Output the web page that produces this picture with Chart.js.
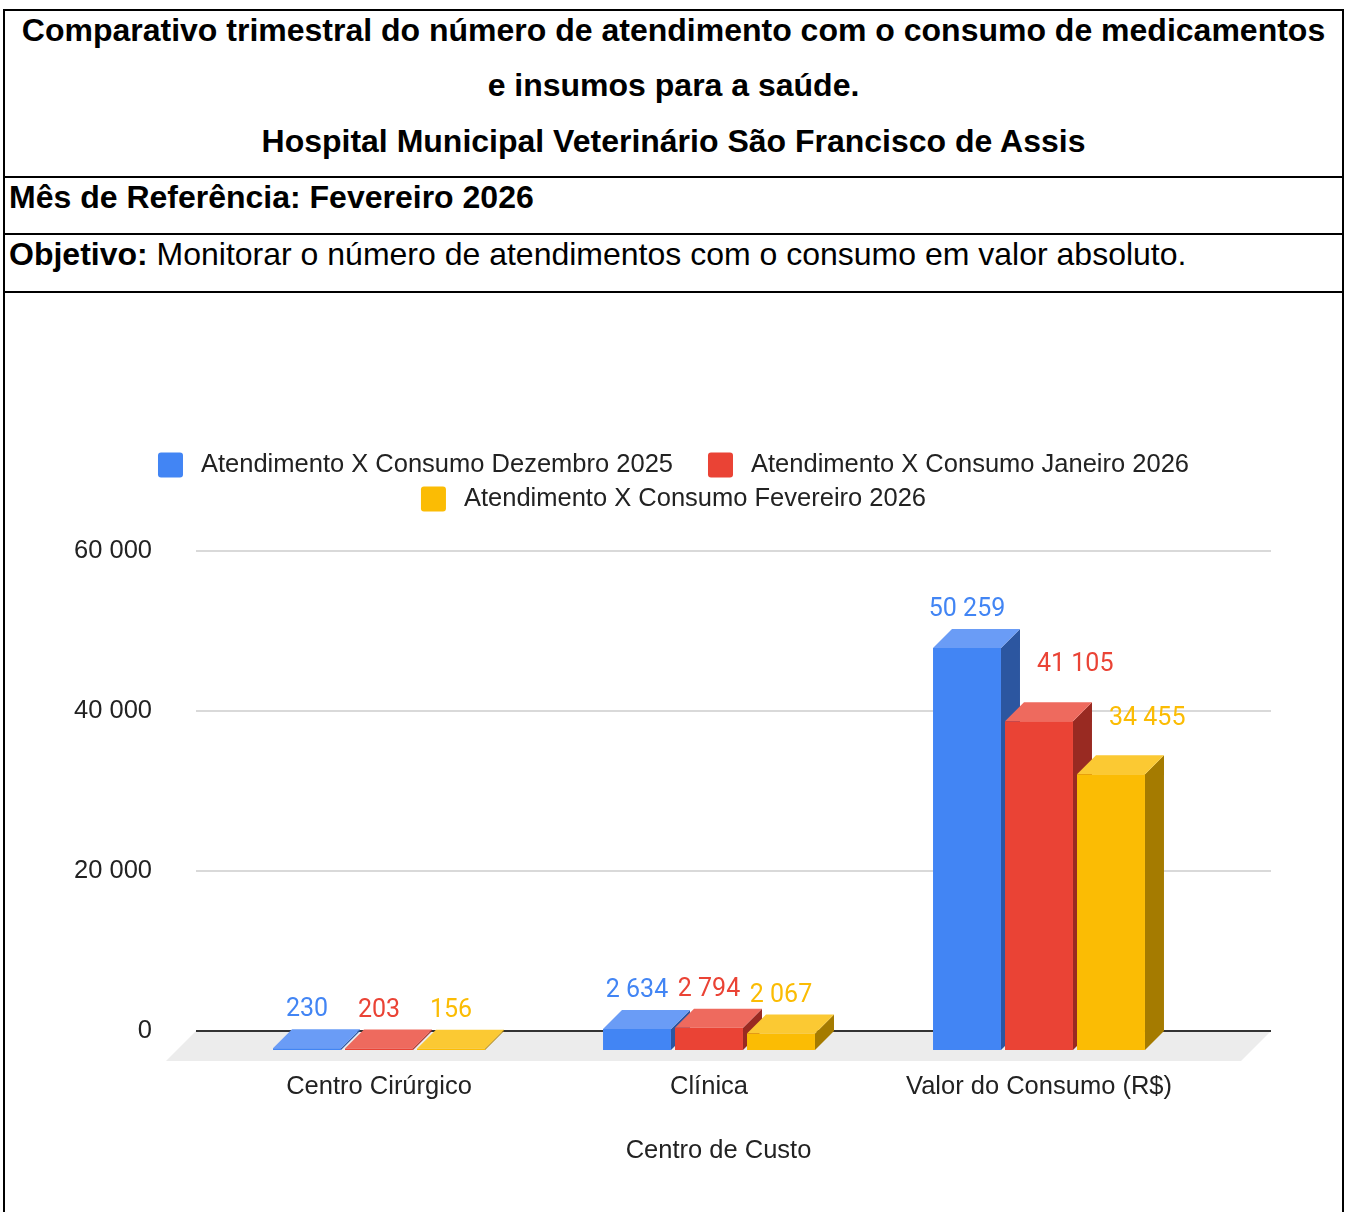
<!DOCTYPE html>
<html lang="pt-BR">
<head>
<meta charset="utf-8">
<title>Comparativo trimestral - Hospital Municipal Veterinário</title>
<script src="https://cdn.jsdelivr.net/npm/chart.js@4.4.1/dist/chart.umd.min.js"></script>
<style>
  html, body { margin: 0; padding: 0; background: #fff; }
  body {
    width: 1345px; height: 1212px; overflow: hidden; position: relative;
    font-family: "Liberation Sans", Arial, sans-serif; color: #000;
  }
  .quadro {
    position: absolute; left: 3px; top: 9px; width: 1341px; height: 1240px;
    border: 2px solid #000; box-sizing: border-box;
  }
  .linha { border-bottom: 2px solid #000; box-sizing: border-box; font-size: 32px; }
  .titulo { height: 167px; text-align: center; font-weight: bold; }
  .titulo div { height: 55.3px; line-height: 38px; }
  .ref { height: 57px; line-height: 38px; padding-left: 4px; font-weight: bold; }
  .obj { height: 58px; line-height: 38px; padding-left: 4px; }
  .grafico { position: relative; width: 1337px; height: 918px; }
</style>
</head>
<body>
<div class="quadro">
  <div class="linha titulo">
    <div>Comparativo trimestral do número de atendimento com o consumo de medicamentos</div>
    <div>e insumos para a saúde.</div>
    <div>Hospital Municipal Veterinário São Francisco de Assis</div>
  </div>
  <div class="linha ref">Mês de Referência: Fevereiro 2026</div>
  <div class="linha obj"><b>Objetivo:</b> Monitorar o número de atendimentos com o consumo em valor absoluto.</div>
  <div class="grafico"><canvas id="grafico" width="1337" height="918"></canvas></div>
</div>

<script>
const categorias = ['Centro Cirúrgico', 'Clínica', 'Valor do Consumo (R$)'];
const series = [
  'Atendimento X Consumo Dezembro 2025',
  'Atendimento X Consumo Janeiro 2026',
  'Atendimento X Consumo Fevereiro 2026'
];
const dezembro2025 = [230, 2634, 50259];
const janeiro2026 = [203, 2794, 41105];
const fevereiro2026 = [156, 2067, 34455];
const eixoY = { min: 0, max: 60000, passo: 20000 };
const tituloX = 'Centro de Custo';

// face colours of each series (front / top / side)
const coresFrente = ['#4285f4', '#ea4335', '#fbbc04'];
const coresTopo = ['#6a9cf6', '#ee6a5e', '#fbc933'];
const coresLado = ['#2c56a0', '#992a22', '#a57b00'];

const PROF = 19;          // depth of the 3d bars
const PISO = 30;          // depth of the grey floor
const FONTE = "'Liberation Sans', Arial, sans-serif";
const TAM = 25.5;

const formatar = v => String(v).replace(/\B(?=(\d{3})+(?!\d))/g, ' ');

// legend drawn in two centred rows above the plot
const legenda = {
  id: 'legenda',
  afterDraw(chart) {
    const { ctx, width } = chart;
    ctx.save();
    ctx.font = TAM + 'px ' + FONTE;
    ctx.textBaseline = 'middle';
    const itens = series.map((t, i) => ({ t, i, w: 43 + ctx.measureText(t).width }));
    const linhas = [[]];
    let larg = 0;
    itens.forEach(it => {
      if (larg > 0 && larg + 35 + it.w > width - 200) { linhas.push([]); larg = 0; }
      larg += (larg > 0 ? 35 : 0) + it.w;
      linhas[linhas.length - 1].push(it);
    });
    linhas.forEach((linha, r) => {
      const total = linha.reduce((s, it) => s + it.w, 0) + 35 * (linha.length - 1);
      let x = (width - total) / 2;
      const y = 172 + r * 34;
      linha.forEach(it => {
        ctx.fillStyle = coresFrente[it.i];
        ctx.beginPath();
        ctx.roundRect(x, y - 12.5, 25, 25, 3);
        ctx.fill();
        ctx.fillStyle = '#222';
        ctx.fillText(it.t, x + 43, y);
        x += it.w + 35;
      });
    });
    ctx.restore();
  }
};

// floor, grid and 3d prisms built on the bar elements
const prisma3d = {
  id: 'prisma3d',
  beforeDatasetsDraw(chart) {
    const { ctx, chartArea, scales: { y } } = chart;
    const zero = y.getPixelForValue(0);
    const esq = chartArea.left - 37, dir = chartArea.right + 48;
    ctx.save();
    ctx.fillStyle = '#ececec';
    ctx.beginPath();
    ctx.moveTo(esq, zero);
    ctx.lineTo(dir, zero);
    ctx.lineTo(dir - PISO, zero + PISO);
    ctx.lineTo(esq - PISO, zero + PISO);
    ctx.closePath();
    ctx.fill();

    y.ticks.forEach(t => {
      const py = Math.round(y.getPixelForValue(t.value));
      ctx.strokeStyle = t.value === 0 ? '#333' : '#cccccc';
      ctx.lineWidth = t.value === 0 ? 2 : 1.6;
      ctx.beginPath();
      ctx.moveTo(esq, py);
      ctx.lineTo(dir, py);
      ctx.stroke();
    });

    chart.data.datasets.forEach((ds, i) => {
      chart.getDatasetMeta(i).data.forEach(bar => {
        const { x, y: topo, base, width } = bar.getProps(['x', 'y', 'base', 'width'], true);
        const fl = x - width / 2 - PROF, fr = x + width / 2 - PROF;
        const ft = topo + PROF, fb = base + PROF;
        ctx.fillStyle = coresLado[i];
        ctx.beginPath();
        ctx.moveTo(fr, ft);
        ctx.lineTo(fr + PROF, topo);
        ctx.lineTo(fr + PROF, base);
        ctx.lineTo(fr, fb);
        ctx.closePath();
        ctx.fill();
        ctx.fillStyle = coresTopo[i];
        ctx.beginPath();
        ctx.moveTo(fl, ft);
        ctx.lineTo(fl + PROF, topo);
        ctx.lineTo(fr + PROF, topo);
        ctx.lineTo(fr, ft);
        ctx.closePath();
        ctx.fill();
        ctx.save();
        ctx.translate(-PROF, PROF);
        bar.draw(ctx, chartArea);
        ctx.restore();
      });
    });
    ctx.restore();
    return false;
  },
  afterDraw(chart) {
    const { ctx, chartArea, scales: { y } } = chart;
    ctx.save();
    ctx.textAlign = 'center';
    ctx.textBaseline = 'middle';

    // axis title, centred under the floor
    ctx.font = TAM + 'px ' + FONTE;
    ctx.fillStyle = '#222';
    const esq = chartArea.left - 37 - PISO, dir = chartArea.right + 48;
    ctx.fillText(tituloX, (esq + dir) / 2, y.getPixelForValue(0) + 120);

    ctx.font = '25px Roboto, ' + FONTE;
    chart.data.datasets.forEach((ds, i) => {
      chart.getDatasetMeta(i).data.forEach((bar, j) => {
        const texto = formatar(ds.data[j]);
        const larg = ctx.measureText(texto).width;
        let cx = bar.x - PROF, cy = bar.y + PROF - 38;
        if (i > 0) {
          // move the value aside when the bar on its left hides it
          const ant = chart.getDatasetMeta(i - 1).data[j];
          const antDir = ant.x + ant.width / 2;
          if (cx - larg / 2 < antDir + 4 && cy + 12 > ant.y) {
            cx = antDir + 17 + larg / 2;
            cy = bar.y + PROF - 56;
          }
        }
        ctx.fillStyle = coresFrente[i];
        ctx.fillText(texto, cx, cy);
      });
    });
    ctx.restore();
  }
};

Chart.defaults.font.family = FONTE;
Chart.defaults.font.size = TAM;
Chart.defaults.color = '#222';

new Chart(document.getElementById('grafico'), {
  type: 'bar',
  data: {
    labels: categorias,
    datasets: [dezembro2025, janeiro2026, fevereiro2026].map((dados, i) => ({
      label: series[i],
      data: dados,
      backgroundColor: coresFrente[i],
      borderWidth: 0,
      categoryPercentage: 0.6545,
      barPercentage: 0.944
    }))
  },
  options: {
    responsive: false,
    animation: false,
    devicePixelRatio: 1,
    layout: { padding: { top: 258, left: 0, right: 119, bottom: 0 } },
    plugins: { legend: { display: false }, tooltip: { enabled: false } },
    scales: {
      x: {
        grid: { display: false, drawTicks: false },
        border: { display: false },
        ticks: { padding: 41, labelOffset: -PROF, maxRotation: 0, autoSkip: false },
        afterFit(scale) { scale.height = 180; }
      },
      y: {
        min: eixoY.min,
        max: eixoY.max,
        grid: { display: false, drawTicks: false },
        border: { display: false },
        ticks: { stepSize: eixoY.passo, padding: 81, callback: v => formatar(v) },
        afterFit(scale) { scale.width = 228; }
      }
    }
  },
  plugins: [prisma3d, legenda]
});
</script>
</body>
</html>
